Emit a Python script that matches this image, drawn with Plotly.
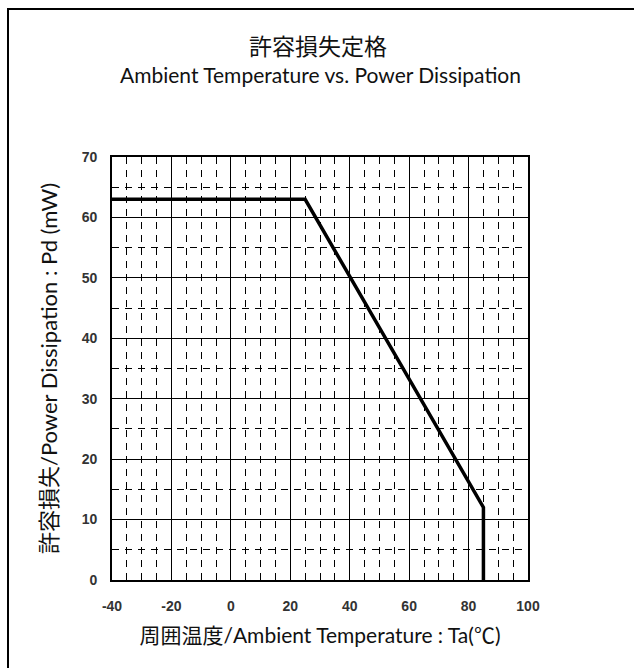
import plotly.graph_objects as go

# Data: derating curve
temp_c = [-40, 25, 85, 85]
power_mw = [63, 63, 12, 0]

x_ticks = [-40, -20, 0, 20, 40, 60, 80, 100]
y_ticks = [0, 10, 20, 30, 40, 50, 60, 70]

title_jp = "許容損失定格"
title_en = "Ambient Temperature vs. Power Dissipation"
x_title = "周囲温度/Ambient Temperature : Ta(℃)"
y_title = "許容損失/Power Dissipation : Pd (mW)"

title_font = "Lato, Noto Sans CJK JP, sans-serif"
tick_font = "Liberation Sans, Arial, sans-serif"

fig = go.Figure()
fig.add_trace(go.Scatter(
    x=temp_c, y=power_mw, mode="lines",
    line=dict(color="black", width=3.5),
    hoverinfo="x+y", showlegend=False,
))

W, H = 634, 668
L, R, T, B = 112, 106, 157, 88

axis_common = dict(
    showline=True, linecolor="black", linewidth=1.6, mirror=True,
    showgrid=True, gridcolor="black", gridwidth=1.2,
    zeroline=False,
    ticks="outside", tickcolor="rgba(0,0,0,0)",
    tickfont=dict(family=tick_font, size=14, color="#333", weight="bold"),
)

fig.update_xaxes(
    range=[-40, 100], tickvals=x_ticks, ticktext=[str(v) for v in x_ticks],
    ticklen=12,
    minor=dict(dtick=5, tick0=0, showgrid=True, gridcolor="black", gridwidth=1, griddash="7px,6px"),
    title=dict(text=x_title, font=dict(family=title_font, size=21, color="#111"), standoff=16),
    **axis_common,
)
fig.update_yaxes(
    range=[0, 70], tickvals=y_ticks, ticktext=[str(v) for v in y_ticks],
    ticklen=10,
    minor=dict(dtick=5, tick0=0, showgrid=True, gridcolor="black", gridwidth=1, griddash="7px,6px"),
    title=dict(text=y_title, font=dict(family=title_font, size=22, color="#111"), standoff=18),
    **axis_common,
)

pw = W - L - R
ph = H - T - B

def px_to_paper_x(px):
    return (px - L) / pw

def px_to_paper_y(py):
    return (H - B - py) / ph

fig.add_annotation(
    text=title_jp, xref="paper", yref="paper",
    x=px_to_paper_x(318), y=px_to_paper_y(46),
    xanchor="center", yanchor="middle", showarrow=False,
    font=dict(family=title_font, size=23, color="#111"),
)
fig.add_annotation(
    text=title_en, xref="paper", yref="paper",
    x=px_to_paper_x(320), y=px_to_paper_y(75),
    xanchor="center", yanchor="middle", showarrow=False,
    font=dict(family=title_font, size=21, color="#111"),
)

# outer frame (left and top edges visible)
fig.add_shape(
    type="rect", xref="paper", yref="paper",
    x0=px_to_paper_x(8), x1=px_to_paper_x(700),
    y0=px_to_paper_y(720), y1=px_to_paper_y(9),
    line=dict(color="black", width=2), layer="below",
)

fig.update_layout(
    width=W, height=H,
    margin=dict(l=L, r=R, t=T, b=B),
    paper_bgcolor="white", plot_bgcolor="white",
    font=dict(family=title_font),
)

fig.write_html(
    "out.html",
    config={"displayModeBar": False},
    post_script="document.body.style.margin='0';document.body.style.overflow='hidden';",
)
